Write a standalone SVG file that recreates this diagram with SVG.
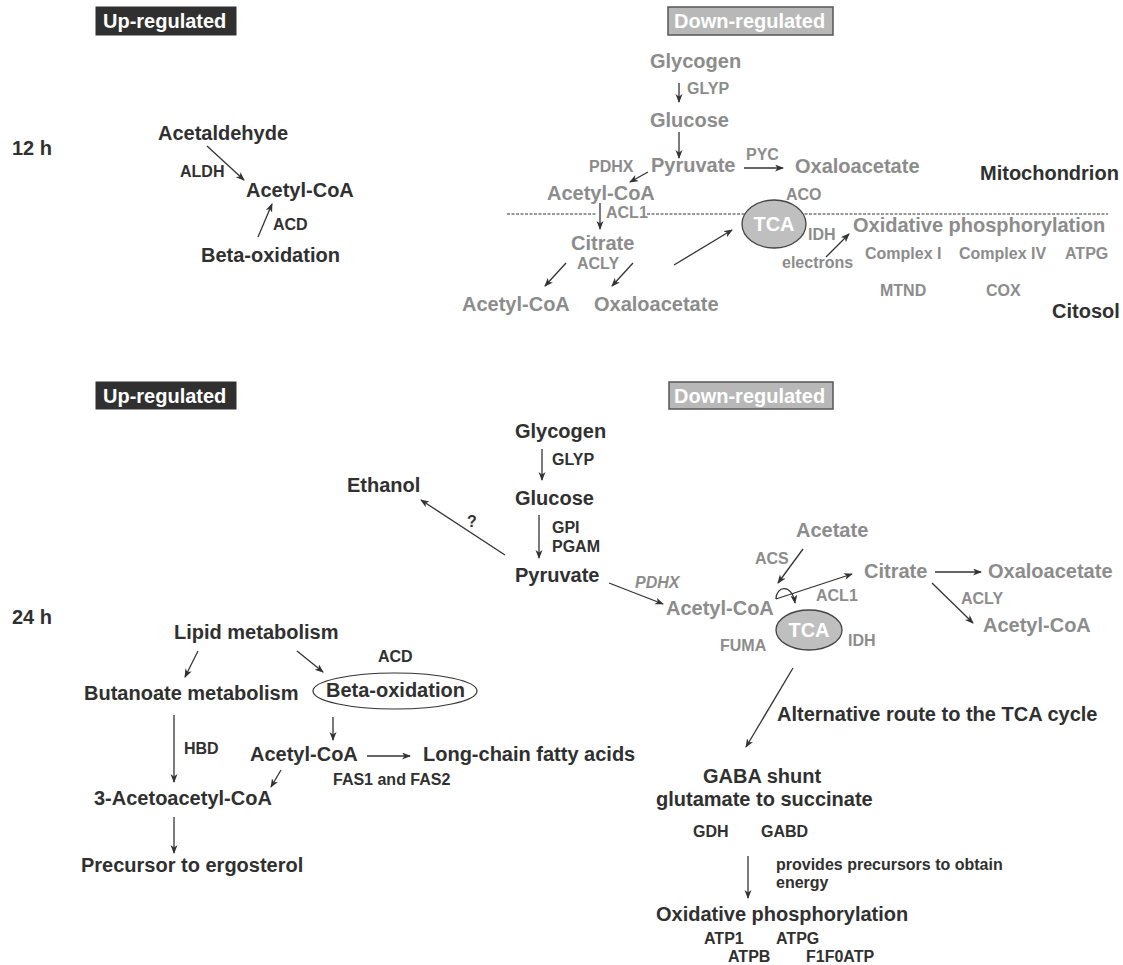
<svg xmlns="http://www.w3.org/2000/svg" width="1123" height="965" viewBox="0 0 1123 965">
<defs>
<marker id="ah" markerUnits="userSpaceOnUse" markerWidth="10" markerHeight="8" refX="8" refY="3.5" orient="auto">
<path d="M0,0 L9,3.5 L0,7 L2.5,3.5 z" fill="#333"/>
</marker>
<style>
text{font-family:"Liberation Sans",Arial,sans-serif;font-weight:bold}
.L{font-size:20px}
.s{font-size:16px}
.d{fill:#303030}
.g{fill:#8c8c8c}
.w{fill:#ffffff}
.a{stroke:#333;stroke-width:1.3;fill:none;marker-end:url(#ah)}
.dash{stroke:#333;stroke-width:1;stroke-dasharray:3 1.5}
.up{fill:#303030;stroke:#303030}
.down{fill:#b8b8b8;stroke:#555;stroke-width:1.5}
.tca{fill:#bfbfbf;stroke:#444;stroke-width:1.3}
</style>
</defs>
<rect width="1123" height="965" fill="#fff"/>

<!-- ===== 12 h section ===== -->
<g id="hdr-up-12"><rect class="up" x="96" y="7" width="140" height="28"/><text class="L w" x="103" y="28">Up-regulated</text></g>
<g id="hdr-down-12"><rect class="down" x="668" y="7" width="165" height="28"/><text class="L w" x="674" y="28">Down-regulated</text></g>
<g id="label-12h"><text class="L d" x="12" y="155">12 h</text></g>

<g id="dashed-membrane">
<line class="dash" x1="507" y1="214" x2="596" y2="214"/>
<line class="dash" x1="647" y1="214" x2="1108" y2="214"/>
</g>

<g id="n-acetaldehyde"><text class="L d" x="158" y="140">Acetaldehyde</text></g>
<g id="n-acetylcoa-up12"><text class="L d" x="246" y="197">Acetyl-CoA</text></g>
<g id="n-betaox-12"><text class="L d" x="201" y="262">Beta-oxidation</text></g>
<g id="e-aldh"><text class="s d" x="180" y="177">ALDH</text></g>
<g id="e-acd-12"><text class="s d" x="273" y="230">ACD</text></g>

<g id="n-glycogen-12"><text class="L g" x="650" y="68">Glycogen</text></g>
<g id="e-glyp-12"><text class="s g" x="687" y="94">GLYP</text></g>
<g id="n-glucose-12"><text class="L g" x="650" y="127">Glucose</text></g>
<g id="n-pyruvate-12"><text class="L g" x="651" y="172">Pyruvate</text></g>
<g id="e-pdhx-12"><text class="s g" x="589" y="172">PDHX</text></g>
<g id="e-pyc"><text class="s g" x="746" y="160">PYC</text></g>
<g id="n-oxalo-12a"><text class="L g" x="795" y="173">Oxaloacetate</text></g>
<g id="n-mito"><text class="L d" x="980" y="180">Mitochondrion</text></g>
<g id="n-acetylcoa-12a"><text class="L g" x="547" y="200">Acetyl-CoA</text></g>
<g id="e-aco"><text class="s g" x="786" y="200">ACO</text></g>
<g id="e-acl1-12"><text class="s g" x="606" y="218">ACL1</text></g>
<g id="n-tca-12"><ellipse class="tca" cx="774" cy="224" rx="32" ry="24"/><text class="L w" x="774" y="231" text-anchor="middle">TCA</text></g>
<g id="e-idh-12"><text class="s g" x="808" y="240">IDH</text></g>
<g id="n-oxphos-12"><text class="L g" x="853" y="232">Oxidative phosphorylation</text></g>
<g id="n-electrons"><text class="s g" x="782" y="268">electrons</text></g>
<g id="e-complex1"><text class="s g" x="865" y="259">Complex I</text></g>
<g id="e-complex4"><text class="s g" x="959" y="259">Complex IV</text></g>
<g id="e-atpg-12"><text class="s g" x="1065" y="259">ATPG</text></g>
<g id="e-mtnd"><text class="s g" x="880" y="296">MTND</text></g>
<g id="e-cox"><text class="s g" x="986" y="296">COX</text></g>
<g id="n-citosol"><text class="L d" x="1052" y="318">Citosol</text></g>
<g id="n-citrate-12"><text class="L g" x="571" y="250">Citrate</text></g>
<g id="e-acly-12"><text class="s g" x="577" y="269">ACLY</text></g>
<g id="n-acetylcoa-12b"><text class="L g" x="462" y="311">Acetyl-CoA</text></g>
<g id="n-oxalo-12b"><text class="L g" x="594" y="311">Oxaloacetate</text></g>

<!-- ===== 24 h section ===== -->
<g id="hdr-up-24"><rect class="up" x="96" y="382" width="140" height="27"/><text class="L w" x="103" y="403">Up-regulated</text></g>
<g id="hdr-down-24"><rect class="down" x="669" y="382" width="164" height="27"/><text class="L w" x="674" y="403">Down-regulated</text></g>
<g id="label-24h"><text class="L d" x="12" y="624">24 h</text></g>

<g id="n-glycogen-24"><text class="L d" x="515" y="438">Glycogen</text></g>
<g id="e-glyp-24"><text class="s d" x="552" y="465">GLYP</text></g>
<g id="n-glucose-24"><text class="L d" x="515" y="505">Glucose</text></g>
<g id="e-gpi"><text class="s d" x="552" y="533">GPI</text><text class="s d" x="552" y="552">PGAM</text></g>
<g id="n-pyruvate-24"><text class="L d" x="515" y="582">Pyruvate</text></g>
<g id="n-ethanol"><text class="L d" x="347" y="492">Ethanol</text></g>
<g id="e-question"><text class="s d" x="467" y="527">?</text></g>
<g id="e-pdhx-24"><text class="s g" x="635" y="588" font-style="italic">PDHX</text></g>
<g id="n-acetylcoa-24a"><text class="L g" x="666" y="615">Acetyl-CoA</text></g>
<g id="n-acetate"><text class="L g" x="796" y="537">Acetate</text></g>
<g id="e-acs"><text class="s g" x="755" y="564">ACS</text></g>
<g id="n-citrate-24"><text class="L g" x="864" y="578">Citrate</text></g>
<g id="e-acl1-24"><text class="s g" x="816" y="601">ACL1</text></g>
<g id="n-oxalo-24"><text class="L g" x="988" y="578">Oxaloacetate</text></g>
<g id="e-acly-24"><text class="s g" x="961" y="604">ACLY</text></g>
<g id="n-acetylcoa-24b"><text class="L g" x="983" y="632">Acetyl-CoA</text></g>
<g id="n-tca-24"><ellipse class="tca" cx="809" cy="630" rx="33" ry="20" fill="#b5b5b5"/><text class="L w" x="809" y="637" text-anchor="middle">TCA</text></g>
<g id="e-fuma"><text class="s g" x="720" y="651">FUMA</text></g>
<g id="e-idh-24"><text class="s g" x="848" y="646">IDH</text></g>

<g id="n-lipid"><text class="L d" x="174" y="639">Lipid metabolism</text></g>
<g id="e-acd-24"><text class="s d" x="378" y="662">ACD</text></g>
<g id="n-butanoate"><text class="L d" x="84" y="700">Butanoate metabolism</text></g>
<g id="n-betaox-24"><ellipse cx="395" cy="691" rx="82" ry="18" fill="none" stroke="#333" stroke-width="1.2"/><text class="L d" x="326" y="697">Beta-oxidation</text></g>
<g id="e-hbd"><text class="s d" x="184" y="754">HBD</text></g>
<g id="n-acetylcoa-24c"><text class="L d" x="250" y="761">Acetyl-CoA</text></g>
<g id="n-lcfa"><text class="L d" x="423" y="761">Long-chain fatty acids</text></g>
<g id="e-fas"><text class="s d" x="333" y="785">FAS1 and FAS2</text></g>
<g id="n-acetoacetyl"><text class="L d" x="94" y="805">3-Acetoacetyl-CoA</text></g>
<g id="n-precursor"><text class="L d" x="81" y="872">Precursor to ergosterol</text></g>

<g id="n-alt-route"><text class="L d" x="777" y="721">Alternative route to the TCA cycle</text></g>
<g id="n-gaba"><text class="L d" x="703" y="783">GABA shunt</text><text class="L d" x="656" y="806">glutamate to succinate</text></g>
<g id="e-gdh"><text class="s d" x="693" y="837">GDH</text><text class="s d" x="761" y="837">GABD</text></g>
<g id="e-provides"><text class="s d" x="776" y="870">provides precursors to obtain</text><text class="s d" x="776" y="888">energy</text></g>
<g id="n-oxphos-24"><text class="L d" x="656" y="921">Oxidative phosphorylation</text></g>
<g id="e-atp"><text class="s d" x="704" y="944">ATP1</text><text class="s d" x="776" y="944">ATPG</text><text class="s d" x="728" y="962">ATPB</text><text class="s d" x="806" y="962">F1F0ATP</text></g>

<!-- ===== connectors ===== -->
<g id="connectors">
<line class="a" x1="207" y1="146" x2="244" y2="180"/>
<line class="a" x1="258" y1="237" x2="272" y2="204"/>
<line class="a" x1="679" y1="83" x2="679" y2="102"/>
<line class="a" x1="679" y1="132" x2="679" y2="158"/>
<line class="a" x1="648" y1="172" x2="630" y2="182"/>
<line class="a" x1="744" y1="168" x2="783" y2="168"/>
<line class="a" x1="600" y1="203" x2="600" y2="229"/>
<line class="a" x1="566" y1="263" x2="545" y2="286"/>
<line class="a" x1="633" y1="263" x2="612" y2="286"/>
<line class="a" x1="674" y1="265" x2="732" y2="230"/>
<line class="a" x1="826" y1="257" x2="849" y2="234"/>

<line class="a" x1="542" y1="449" x2="542" y2="480"/>
<line class="a" x1="539" y1="515" x2="539" y2="558"/>
<line class="a" x1="505" y1="555" x2="421" y2="500"/>
<line class="a" x1="609" y1="583" x2="663" y2="604"/>
<line class="a" x1="803" y1="549" x2="778" y2="583"/>
<line class="a" x1="776" y1="599" x2="852" y2="574"/>
<path class="a" d="M776,599 C776,586 792,583 795,603"/>
<line class="a" x1="935" y1="572" x2="981" y2="572"/>
<line class="a" x1="932" y1="583" x2="973" y2="623"/>
<line class="a" x1="793" y1="668" x2="746" y2="747"/>
<line class="a" x1="748" y1="856" x2="748" y2="898"/>

<line class="a" x1="198" y1="651" x2="185" y2="677"/>
<line class="a" x1="297" y1="651" x2="323" y2="672"/>
<line class="a" x1="333" y1="717" x2="333" y2="740"/>
<line class="a" x1="174" y1="715" x2="174" y2="782"/>
<line class="a" x1="367" y1="756" x2="410" y2="756"/>
<line class="a" x1="281" y1="770" x2="271" y2="787"/>
<line class="a" x1="174" y1="817" x2="174" y2="853"/>
</g>
</svg>
